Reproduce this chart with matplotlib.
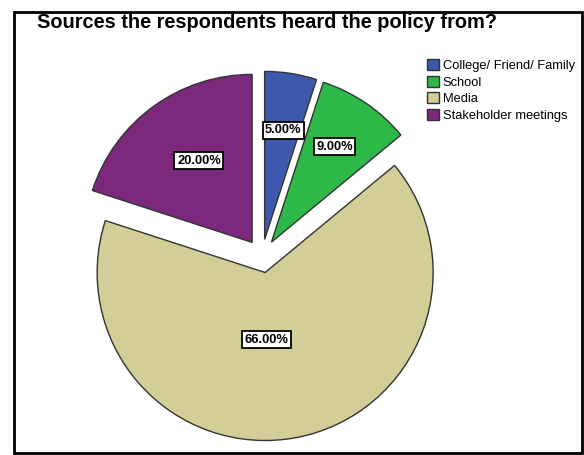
import numpy as np
import matplotlib.pyplot as plt
from matplotlib.patches import Rectangle

plt.rcParams["font.family"] = ["Liberation Sans", "DejaVu Sans"]

categories = ["College/ Friend/ Family", "School", "Media", "Stakeholder meetings"]
shares = [5.0, 9.0, 66.0, 20.0]
colors = ["#3E58AC", "#2EB848", "#D3CE97", "#7C287D"]
# label placement: distance as fraction of radius, angle as fraction of wedge span
label_r = [0.66, 0.68, 0.40, 0.58]
label_a = [0.46, 0.52, 0.46, 0.46]

W, H = 584, 455
fig = plt.figure(figsize=(W / 100, H / 100), dpi=100)
ax = fig.add_axes([0, 0, 1, 1])

cx, cy, r = 262, H - 256, 168
# explode offset is in data units, so scale by radius
wedges, _ = ax.pie(shares, colors=colors, startangle=90, counterclock=False,
                   explode=[0.1 * r] * len(shares), radius=r, center=(cx, cy),
                   wedgeprops=dict(edgecolor="#333333", linewidth=1.0),
                   frame=True)
ax.set_xlim(0, W)
ax.set_ylim(0, H)
ax.set_aspect("equal")
ax.axis("off")

for w, v, fr, fa in zip(wedges, shares, label_r, label_a):
    ang = np.deg2rad(w.theta1 + fa * (w.theta2 - w.theta1))
    wx, wy = w.center
    ax.text(wx + fr * r * np.cos(ang), wy + fr * r * np.sin(ang), f"{v:.2f}%",
            ha="center", va="center", fontsize=9.3, fontweight="bold",
            bbox=dict(boxstyle="square,pad=0.2", fc="white", ec="black", lw=1.3))

fig.text(37 / W, 1 - 22 / H, "Sources the respondents heard the policy from?",
         ha="left", va="center", fontsize=14.4, fontweight="bold")

leg = ax.legend(wedges, categories, loc="upper left", bbox_to_anchor=(418 / W, 1 - 50 / H),
                bbox_transform=fig.transFigure, frameon=False, fontsize=9.3,
                handlelength=0.95, handleheight=0.95, handletextpad=0.25,
                labelspacing=0.27, borderpad=0.2)

fig.patches.append(Rectangle((14 / W, 1 - 453 / H), (582 - 14) / W, (453 - 12) / H,
                             transform=fig.transFigure, fill=False, ec="black", lw=2))

fig.savefig("out.png", dpi=100)
